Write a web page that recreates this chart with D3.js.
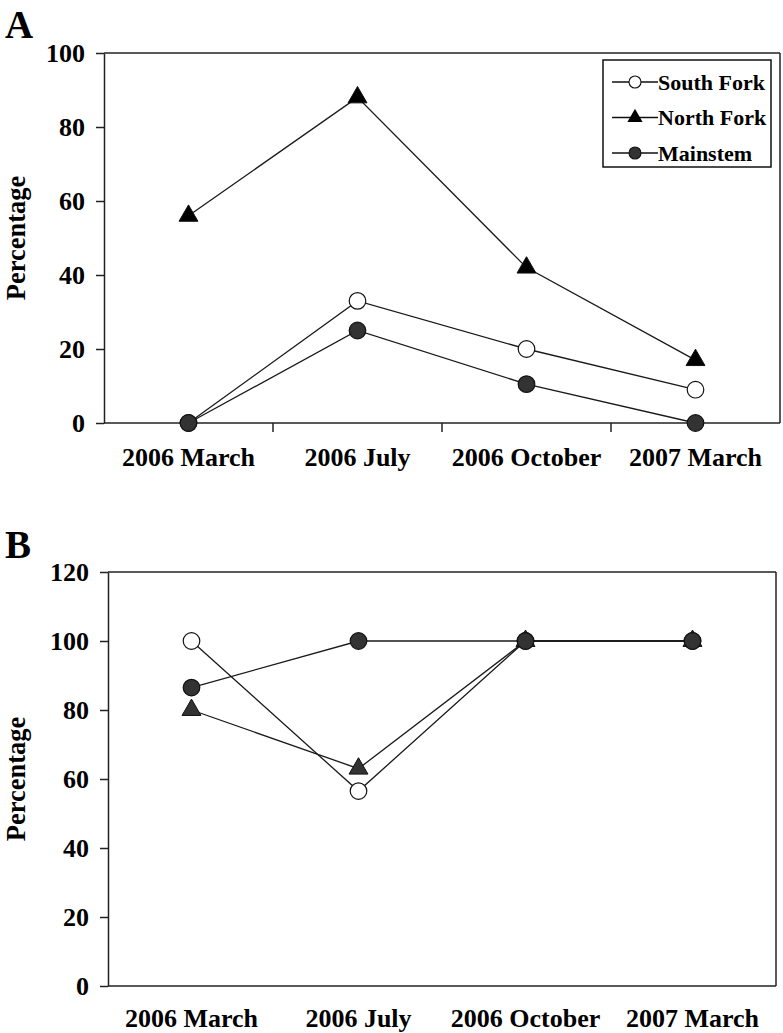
<!DOCTYPE html>
<html><head><meta charset="utf-8">
<script src="https://cdn.jsdelivr.net/npm/d3@7"></script>
<style>
body{margin:0;background:#fff;}
svg text{font-family:"Liberation Serif","Times New Roman",serif;font-weight:bold;fill:#000;}
</style></head>
<body><svg id="c" width="783" height="1033"></svg>
<script>
const categories = ["2006 March","2006 July","2006 October","2007 March"];
const seriesNames = ["South Fork","North Fork","Mainstem"];
// Panel A values
const southForkA = [0, 33, 20, 9];
const northForkA = [56, 88, 42, 17];
const mainstemA  = [0, 25, 10.5, 0];
const ticksA = [0,20,40,60,80,100];
// Panel B values
const southForkB = [100, 56.5, 100, 100];
const northForkB = [80, 63, 100, 100];
const mainstemB  = [86.5, 100, 100, 100];
const ticksB = [0,20,40,60,80,100,120];

const svg = d3.select("#c");

const styles = {
  "South Fork": {shape:"circle", fill:"#fff"},
  "North Fork": {shape:"triangle", fill:"#000"},
  "Mainstem":   {shape:"circle", fill:"#333"}
};

function marker(g, name, x, y, triFill) {
  const st = styles[name];
  if (st.shape === "circle") {
    g.append("circle").attr("cx",x).attr("cy",y).attr("r",8.3)
      .attr("fill",st.fill).attr("stroke","#111").attr("stroke-width",1.2);
  } else {
    g.append("path").attr("d", d3.symbol(d3.symbolTriangle, 155)())
      .attr("transform",`translate(${x},${y})`)
      .attr("fill", triFill || st.fill).attr("stroke","#111").attr("stroke-width",1);
  }
}

function panel(cfg) {
  const x = d3.scaleBand().domain(categories).range([cfg.left, cfg.right]);
  const y = d3.scaleLinear().domain([0, cfg.max]).range([cfg.bottom, cfg.top]);
  const g = svg.append("g");

  // frame top/right
  g.append("line").attr("x1",cfg.left).attr("x2",cfg.right).attr("y1",y(cfg.max)).attr("y2",y(cfg.max))
    .attr("stroke","#222").attr("stroke-width",1.5);
  g.append("line").attr("x1",cfg.right).attr("x2",cfg.right).attr("y1",y(cfg.max)).attr("y2",y(0))
    .attr("stroke","#222").attr("stroke-width",1.5);

  // y axis
  const ya = g.append("g").attr("transform",`translate(${cfg.left},0)`)
    .call(d3.axisLeft(y).tickValues(cfg.ticks).tickSize(8).tickSizeOuter(0).tickPadding(11));
  ya.selectAll("path,line").attr("stroke","#222").attr("stroke-width",1.5);
  ya.selectAll("text").style("font-size","26px").attr("dy","0.34em")
    .style("font-family","'Liberation Serif',serif").style("font-weight","bold");

  // x axis
  const xa = g.append("g").attr("transform",`translate(0,${y(0)})`)
    .call(d3.axisBottom(x).tickSize(0).tickSizeOuter(0).tickPadding(cfg.labelPad));
  xa.select("path.domain").attr("stroke","#222").attr("stroke-width",1.5)
    .attr("d", `M${cfg.left},0H${cfg.right}`);
  xa.selectAll("text").style("font-size","26px")
    .style("font-family","'Liberation Serif',serif").style("font-weight","bold");
  if (cfg.xTicks) {
    categories.slice(1).forEach(c => {
      g.append("line").attr("x1",x(c)).attr("x2",x(c)).attr("y1",y(0)).attr("y2",y(0)+9)
        .attr("stroke","#222").attr("stroke-width",1.5);
    });
  }

  // y label
  g.append("text").attr("transform",`translate(25,${(y(0)+y(cfg.max))/2}) rotate(-90)`)
    .attr("text-anchor","middle").style("font-size","26.5px").text("Percentage");
  // panel letter
  g.append("text").attr("x",5).attr("y",cfg.letterY).style("font-size","39px").text(cfg.letter);

  const cx = c => x(c) + x.bandwidth()/2;
  const line = d3.line().x((d,i)=>cx(categories[i])).y(d=>y(d));
  cfg.series.forEach(s => {
    g.append("path").attr("d", line(s.values)).attr("fill","none")
      .attr("stroke","#1a1a1a").attr("stroke-width",1.3);
  });
  cfg.series.forEach(s => {
    s.values.forEach((v,i) => marker(g, s.name, cx(categories[i]), y(v), cfg.triFill));
  });
  return {x,y};
}

panel({letter:"A", letterY:38, left:104, right:780, top:53, bottom:423, max:100, ticks:ticksA,
  xTicks:true, labelPad:25,
  series:[{name:"South Fork",values:southForkA},{name:"North Fork",values:northForkA},{name:"Mainstem",values:mainstemA}]});

panel({letter:"B", letterY:558, left:108, right:776, top:572, bottom:986, max:120, ticks:ticksB,
  xTicks:false, labelPad:23, triFill:"#333",
  series:[{name:"South Fork",values:southForkB},{name:"North Fork",values:northForkB},{name:"Mainstem",values:mainstemB}]});

// legend (panel A)
const lg = svg.append("g");
lg.append("rect").attr("x",603).attr("y",60).attr("width",168).attr("height",107)
  .attr("fill","#fff").attr("stroke","#111").attr("stroke-width",1.5);
seriesNames.forEach((n,i) => {
  const yy = 82 + i*35.5;
  lg.append("line").attr("x1",612).attr("x2",658).attr("y1",yy).attr("y2",yy).attr("stroke","#111").attr("stroke-width",1.3);
  const st = styles[n];
  if (st.shape==="circle") {
    lg.append("circle").attr("cx",635).attr("cy",yy).attr("r",6).attr("fill",st.fill).attr("stroke","#111").attr("stroke-width",1.1);
  } else {
    lg.append("path").attr("d",d3.symbol(d3.symbolTriangle,100)()).attr("transform",`translate(635,${yy})`).attr("fill","#000");
  }
  lg.append("text").attr("x",658).attr("y",yy).attr("dy","0.35em").style("font-size","22px").text(n);
});
</script></body></html>
